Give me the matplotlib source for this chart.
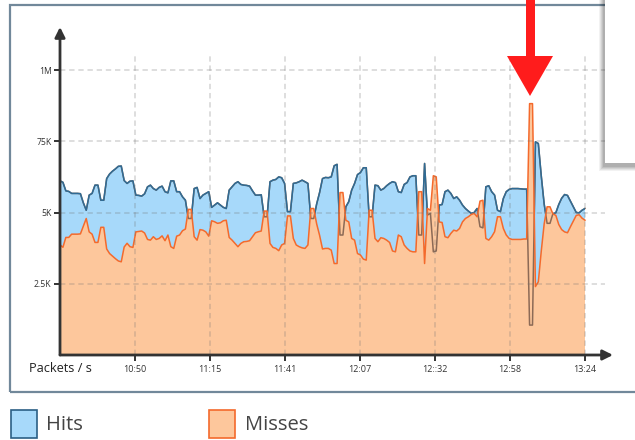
import numpy as np
import matplotlib
matplotlib.use("Agg")
import matplotlib.pyplot as plt
from matplotlib.patches import Rectangle, Polygon

plt.rcParams['font.family'] = ['Open Sans', 'DejaVu Sans']

# ---- data (packets / s, one sample per minute from 10:24 to 13:24) ----
hits = [6110, 6060, 5760, 5740, 5670, 5670, 5670, 5660, 5340, 5080,
        5610, 5670, 5960, 5960, 5430, 5430, 6190, 6350, 6450, 6530,
        6620, 6630, 6120, 6020, 6100, 6110, 5610, 5600, 5575, 5655,
        5900, 5960, 5840, 5785, 5880, 5925, 5730, 5690, 6110, 6110,
        5730, 5730, 5550, 5430, 4790, 4790, 5840, 5880, 5490, 5610,
        5670, 5730, 5180, 5260, 5340, 5260, 5180, 5140, 5785, 5900,
        6020, 6080, 5985, 5960, 5950, 5925, 5760, 5610, 5610, 5620,
        4850, 4850, 6080, 6135, 6160, 6250, 6220, 6020, 5030, 5030,
        6020, 6040, 6080, 6135, 6080, 6020, 4790, 4790, 5300, 5700,
        6190, 6230, 6220, 6250, 6640, 6690, 4210, 4210, 5200, 5380,
        5785, 6020, 6330, 6400, 6570, 6570, 4850, 4850, 5960, 5940,
        5785, 5840, 5940, 6020, 6080, 6050, 5730, 5700, 5985, 6050,
        6250, 6290, 6290, 4210, 4210, 6720, 4910, 4970, 3620, 3650,
        5260, 5280, 5730, 5785, 5670, 5490, 5550, 5430, 5260, 5140,
        5050, 4970, 5000, 5140, 4500, 4460, 5900, 5940, 5730, 5610,
        5080, 5030, 5490, 5730, 5810, 5840, 5840, 5840, 5830, 5820,
        5820, 1050, 1050, 7480, 7420, 6290, 5300, 4620, 4620, 4960,
        4990, 5280, 5500, 5630, 5600, 5400, 5200, 5000, 4990, 5080,
        5140]
misses = [3860, 3780, 4125, 4125, 4240, 4240, 4240, 4250, 4520, 4790,
          4320, 4240, 3950, 3950, 4480, 4480, 3720, 3560, 3470, 3380,
          3300, 3270, 3790, 3920, 3800, 3775, 4320, 4335, 4350, 4280,
          4055, 4030, 4150, 4055, 4090, 4180, 4010, 4210, 3800, 3740,
          4170, 4210, 4360, 4420, 5110, 5110, 4150, 4030, 4400, 4380,
          4320, 4170, 4710, 4675, 4620, 4640, 4710, 4730, 4125, 4030,
          3915, 3800, 3915, 3975, 3985, 4010, 4150, 4290, 4325, 4350,
          5050, 5050, 3915, 3775, 3740, 3660, 3860, 3915, 4880, 4880,
          4090, 3860, 3800, 3760, 3740, 3860, 5140, 5140, 4600, 4200,
          3720, 3740, 3740, 3680, 3210, 3210, 5700, 5700, 4730, 4670,
          4090, 4030, 3560, 3510, 3365, 3330, 5080, 5080, 4090, 3975,
          4115, 4090, 4030, 3950, 3650, 3620, 4210, 4150, 3860, 3740,
          3650, 3620, 3620, 5730, 5730, 3210, 5140, 5080, 6290, 6250,
          4670, 4650, 4150, 4115, 4265, 4380, 4350, 4440, 4670, 4790,
          4850, 4930, 4970, 4850, 5400, 5430, 4090, 4030, 4150, 4325,
          4850, 4850, 4440, 4210, 4090, 4055, 4055, 4055, 4055, 4070,
          4070, 8820, 8820, 2400, 2570, 3640, 4600, 5200, 5200, 4950,
          4900, 4580, 4400, 4320, 4290, 4500, 4700, 4900, 4920, 4800,
          4730]
x_labels = ["10:50", "11:15", "11:41", "12:07", "12::32", "12:58", "13:24"]
y_ticks = [2500, 5000, 7500, 10000]
y_labels = ["2.5K", "5K", "75K", "1M"]
series_names = ["Hits", "Misses"]
span_minutes = 180

# ---- styling ----
W, H = 635, 440
BLUE_FILL, BLUE_LINE = "#a7d9fa", "#2f6b95"
ORANGE_FILL, ORANGE_LINE = "#fdc79c", "#f46a2c"
HIDDEN_LINE = "#8c6a56"
AXIS = "#333333"

def fx(x):
    return x / W

def fy(y):
    return 1 - y / H

fig = plt.figure(figsize=(W / 100, H / 100), dpi=100)
fig.patch.set_facecolor("white")

# outer frame
fig.patches.append(Rectangle((fx(10), fy(392)), fx(700), fy(5) - fy(392),
                             transform=fig.transFigure, fill=False,
                             edgecolor="#71889a", lw=1.6, zorder=0))

ax = fig.add_axes([fx(60), fy(355), fx(605) - fx(60), fy(27) - fy(355)])
ax.set_facecolor("none")
t = np.arange(len(hits))
xmax = span_minutes * (605 - 60) / (585 - 60)
ymax = 10000 * (355 - 27) / (355 - 70)
ax.set_xlim(0, xmax)
ax.set_ylim(0, ymax)
for s in ax.spines.values():
    s.set_visible(False)

h = np.array(hits, dtype=float)
m = np.array(misses, dtype=float)

ax.fill_between(t, 0, h, facecolor=BLUE_FILL, edgecolor="none", zorder=1)
ax.fill_between(t, 0, m, facecolor=ORANGE_FILL, edgecolor="none", zorder=2)

# hits line: brownish where hidden under misses, blue where above
ax.plot(t, h, color=HIDDEN_LINE, lw=1.1, zorder=3)
above = ax.fill_between(t, m, ymax * 2, facecolor="none", edgecolor="none")
blue_line, = ax.plot(t, h, color=BLUE_LINE, lw=1.1, zorder=3.5)
blue_line.set_clip_path(above.get_paths()[0], ax.transData)
ax.plot(t, m, color=ORANGE_LINE, lw=1.1, zorder=4)

# grid
xt = [span_minutes * (k + 1) / 7 for k in range(7)]
grid_kw = dict(color=(0.45, 0.45, 0.45), alpha=0.3, lw=1.1,
               linestyles=(0, (3.5, 2.5)), zorder=5)
ax.hlines(y_ticks, 0, xmax, **grid_kw)
ax.vlines(xt, 0, 10000 * (355 - 55) / (355 - 70), **grid_kw)

# ticks
ax.set_xticks(xt)
ax.set_xticklabels(x_labels, fontsize=6.5, color=AXIS)
ax.set_yticks(y_ticks)
ax.set_yticklabels(y_labels, fontsize=6.2, color=AXIS)
ax.tick_params(axis="x", length=4, width=1.4, color=AXIS, pad=3)
ax.tick_params(axis="y", length=4, width=1.4, color=AXIS, pad=2)

# axes with arrows
arrow_kw = dict(arrowstyle="-|>,head_width=0.3,head_length=0.6", lw=2.0,
                color=AXIS, shrinkA=0, shrinkB=0)
ax.annotate("", xy=(0, 1), xytext=(0, 0), xycoords="axes fraction",
            arrowprops=arrow_kw, zorder=6, annotation_clip=False)
ax.annotate("", xy=((613 - 60) / (605 - 60), 0), xytext=(0, 0),
            xycoords="axes fraction", arrowprops=arrow_kw, zorder=6,
            annotation_clip=False)

fig.text(fx(29), fy(368), "Packets / s", fontsize=9.2, color="#222222",
         ha="left", va="center")

# tooltip box with shadow
for i, a in enumerate([0.05, 0.06, 0.07, 0.08, 0.09]):
    d = 6 - i
    fig.patches.append(Rectangle((fx(605 - d), fy(163 + d + 2)), fx(60),
                                 fy(0) - fy(163 + d + 2),
                                 transform=fig.transFigure, facecolor="black",
                                 edgecolor="none", alpha=a, zorder=8))
fig.patches.append(Rectangle((fx(605), fy(163)), fx(60), fy(-5) - fy(163),
                             transform=fig.transFigure, facecolor="white",
                             edgecolor="none", zorder=9))

# red arrow
pts = [(526, -5), (535, -5), (535, 56), (553, 56), (530, 96), (507, 56), (526, 56)]
fig.patches.append(Polygon([(fx(x), fy(y)) for x, y in pts], closed=True,
                           transform=fig.transFigure, facecolor="#ff1c1c",
                           edgecolor="none", zorder=10))

# legend
legend_items = [(11, BLUE_FILL, "#2b5f85", 46), (209, ORANGE_FILL, ORANGE_LINE, 245)]
for name, (x0, fc, ec, tx) in zip(series_names, legend_items):
    fig.patches.append(Rectangle((fx(x0), fy(438)), fx(26), fy(410) - fy(438),
                                 transform=fig.transFigure, facecolor=fc,
                                 edgecolor=ec, lw=1.2, zorder=3))
    fig.text(fx(tx), fy(425), name, fontsize=14.5, color="#444444",
             ha="left", va="center")

fig.savefig("out.png", dpi=100)
